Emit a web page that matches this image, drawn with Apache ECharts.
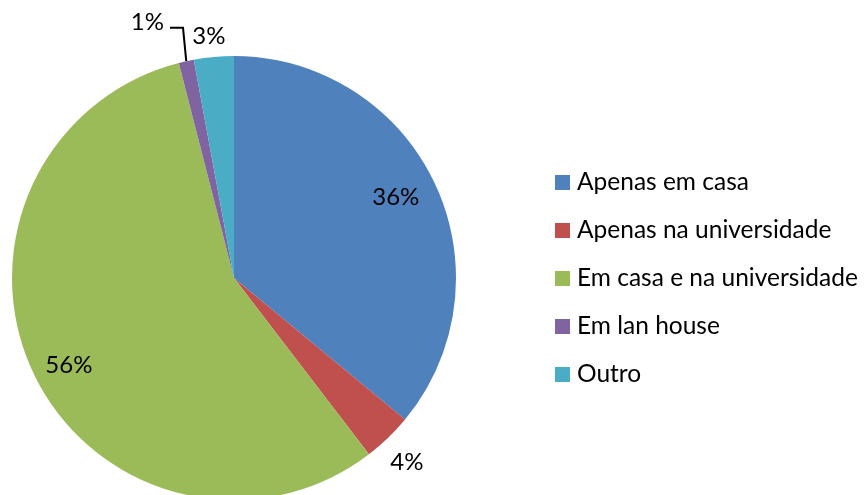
<!DOCTYPE html>
<html>
<head>
<meta charset="utf-8">
<script src="https://cdn.jsdelivr.net/npm/echarts@6/dist/echarts.min.js"></script>
<style>
html,body{margin:0;padding:0;background:#fff;}
#c{width:864px;height:495px;}
</style>
</head>
<body>
<div id="c"></div>
<script>
// Data
var categories = ['Apenas em casa', 'Apenas na universidade', 'Em casa e na universidade', 'Em lan house', 'Outro'];
var values = [36.0, 3.6, 56.4, 1.1, 2.9];
var colors = ['#4F81BD', '#C0504D', '#9BBB59', '#8064A2', '#4BACC6'];

var CX = 234, CY = 278, R = 222;
var FONT = 'Lato, "Liberation Sans", sans-serif';

// label placement: radius factor and angle tweak (degrees) per slice
var labelRadius = [0.815, 1.137, 0.842, null, 1.096];
var labelAngleTweak = [-1.4, 0.7, -2, 0, -0.7];

var total = values.reduce(function (a, b) { return a + b; }, 0);
function midAngle(i) {
  var s = 0;
  for (var j = 0; j < i; j++) s += values[j];
  return (s + values[i] / 2) / total * 360;
}
function polar(deg, r) {
  var a = deg * Math.PI / 180;
  return [CX + r * Math.sin(a), CY - r * Math.cos(a)];
}

var chart = echarts.init(document.getElementById('c'), null, { renderer: 'canvas' });
chart.setOption({
  animation: false,
  backgroundColor: '#ffffff',
  color: colors,
  legend: {
    orient: 'vertical',
    left: 555,
    top: 170,
    padding: 0,
    icon: 'rect',
    itemWidth: 15,
    itemHeight: 15,
    itemGap: 23,
    selectedMode: false,
    textStyle: { fontFamily: FONT, fontSize: 24.5, color: '#000', lineHeight: 24, padding: [0, 0, 0, 2] },
    data: categories
  },
  series: [{
    type: 'pie',
    center: [CX, CY],
    radius: [0, R],
    startAngle: 90,
    clockwise: true,
    percentPrecision: 0,
    avoidLabelOverlap: false,
    itemStyle: { borderWidth: 0 },
    emphasis: { disabled: true },
    label: {
      show: true,
      position: 'outside',
      formatter: '{d}%',
      fontFamily: FONT,
      fontSize: 24,
      color: '#000'
    },
    labelLine: { show: false },
    labelLayout: function (p) {
      var i = p.dataIndex;
      var m = midAngle(i);
      if (i === 3) {
        var p1 = polar(m, R);
        var p2 = polar(m + 0.9, R * 1.15);
        var p3 = [p2[0] - 13, p2[1]];
        return {
          x: p3[0] - 6, y: p3[1] - 6, align: 'right', verticalAlign: 'middle',
          labelLinePoints: [p1, p2, p3]
        };
      }
      var pt = polar(m + labelAngleTweak[i], R * labelRadius[i]);
      return { x: pt[0], y: pt[1], align: 'center', verticalAlign: 'middle' };
    },
    data: categories.map(function (name, i) {
      var d = { name: name, value: values[i] };
      if (i === 3) {
        d.labelLine = { show: true, length: 20, length2: 12, lineStyle: { color: '#000', width: 2 } };
      }
      return d;
    })
  }]
});
</script>
</body>
</html>
